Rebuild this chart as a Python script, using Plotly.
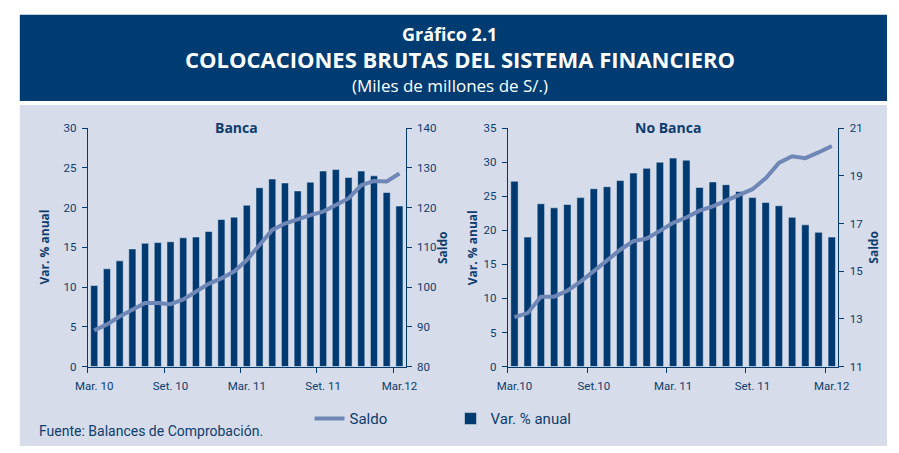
import plotly.graph_objects as go

# ---------------- data ----------------
months = ["Mar10", "Abr10", "May10", "Jun10", "Jul10", "Ago10", "Set10", "Oct10", "Nov10",
          "Dic10", "Ene11", "Feb11", "Mar11", "Abr11", "May11", "Jun11", "Jul11", "Ago11",
          "Set11", "Oct11", "Nov11", "Dic11", "Ene12", "Feb12", "Mar12"]

tick_months = ["Mar10", "Set10", "Mar11", "Set11", "Mar12"]
tick_text_banca = ["Mar. 10", "Set. 10", "Mar. 11", "Set. 11", "Mar.12"]
tick_text_nobanca = ["Mar.10", "Set.10", "Mar. 11", "Set. 11", "Mar.12"]

banca_var = [10.2, 12.3, 13.3, 14.8, 15.5, 15.6, 15.7, 16.2, 16.3, 17.0, 18.5, 18.8, 20.3,
             22.5, 23.6, 23.1, 22.1, 23.2, 24.6, 24.8, 23.8, 24.6, 24.0, 21.9, 20.2]
banca_saldo = [89.1, 90.6, 92.6, 94.3, 96.0, 96.0, 95.7, 96.9, 98.9, 100.8, 102.2, 103.9, 106.8,
               110.8, 114.4, 116.0, 117.1, 118.1, 119.0, 120.6, 122.3, 125.6, 126.7, 126.6, 128.6]

nobanca_var = [27.2, 19.0, 23.9, 23.3, 23.8, 24.8, 26.1, 26.4, 27.3, 28.4, 29.1, 30.0, 30.6,
               30.3, 26.3, 27.1, 26.7, 25.7, 24.8, 24.1, 23.6, 21.9, 20.8, 19.7, 19.0]
nobanca_saldo = [13.07, 13.24, 13.93, 13.93, 14.18, 14.56, 15.0, 15.46, 15.9, 16.26, 16.37, 16.69,
                 17.03, 17.25, 17.54, 17.72, 17.95, 18.18, 18.44, 18.9, 19.54, 19.82, 19.74, 19.98, 20.25]

# ---------------- style ----------------
W, H = 899, 453
NAVY = "#003A70"
HEADER = "#003B71"
PANEL = "#D6DCE9"
LINE = "#6F87B6"
TXT = "#0F3C6E"
NARROW = "Roboto, sans-serif"
TICKFONT = dict(family=NARROW, size=11.5, color=TXT)


def px_x(p):
    return min(max(p / W, 0), 1)


def px_y(p):
    return min(max(1 - p / H, 0), 1)


fig = go.Figure()

fig.add_trace(go.Bar(x=months, y=banca_var, name="Var. % anual", marker_color=NAVY,
                     width=0.56, xaxis="x", yaxis="y", legendrank=2))
fig.add_trace(go.Scatter(x=months, y=banca_saldo, name="Saldo", mode="lines",
                         line=dict(color=LINE, width=4), xaxis="x", yaxis="y2", legendrank=1))
fig.add_trace(go.Bar(x=months, y=nobanca_var, name="Var. % anual", marker_color=NAVY,
                     width=0.56, xaxis="x2", yaxis="y3", showlegend=False))
fig.add_trace(go.Scatter(x=months, y=nobanca_saldo, name="Saldo", mode="lines",
                         line=dict(color=LINE, width=4), xaxis="x2", yaxis="y4", showlegend=False))

yb0, yb1 = px_y(371), px_y(125)

xcommon = dict(type="category", tickson="boundaries", ticks="outside", ticklen=5, tickwidth=1,
               tickcolor=NAVY, showline=True, linecolor=NAVY, linewidth=1, showgrid=False,
               tickfont=TICKFONT, tickangle=0, ticklabelstandoff=9, zeroline=False, fixedrange=True)
ycommon = dict(ticks="outside", ticklen=5, tickwidth=1, tickcolor=NAVY, showline=True,
               linecolor=NAVY, linewidth=1, showgrid=False, zeroline=False,
               tickfont=TICKFONT, ticklabelstandoff=3, fixedrange=True)

fig.update_layout(
    width=W, height=H,
    margin=dict(l=0, r=0, t=0, b=0),
    paper_bgcolor="white",
    plot_bgcolor="rgba(0,0,0,0)",
    barmode="overlay",
    xaxis=dict(domain=[px_x(77), px_x(404)], anchor="y", tickvals=tick_months,
               ticktext=tick_text_banca, **xcommon),
    yaxis=dict(domain=[yb0, yb1], anchor="x", range=[0, 30], dtick=5, **ycommon),
    yaxis2=dict(overlaying="y", anchor="x", side="right", range=[80, 140], dtick=10, **ycommon),
    xaxis2=dict(domain=[px_x(509), px_x(849)], anchor="y3", tickvals=tick_months,
                ticktext=tick_text_nobanca, **xcommon),
    yaxis3=dict(domain=[yb0, yb1], anchor="x2", range=[0, 35], dtick=5, **ycommon),
    yaxis4=dict(overlaying="y3", anchor="x2", side="right", range=[11, 21], tick0=11, dtick=2, **ycommon),
    showlegend=True,
    legend=dict(orientation="h", x=px_x(305), y=px_y(425), xanchor="left", yanchor="middle",
                bgcolor="rgba(0,0,0,0)", entrywidth=96, entrywidthmode="pixels",
                font=dict(family=NARROW, size=15, color=TXT),
                traceorder="normal"),
    shapes=[
        dict(type="rect", xref="paper", yref="paper", x0=px_x(7), x1=1, y0=px_y(97), y1=px_y(8),
             fillcolor=HEADER, line=dict(width=0), layer="below"),
        dict(type="rect", xref="paper", yref="paper", x0=px_x(7), x1=1, y0=0, y1=px_y(101),
             fillcolor=PANEL, line=dict(width=0), layer="below"),
    ],
)

ann = []
hdr_font = "Open Sans, sans-serif"
ann.append(dict(text="<b>Gráfico 2.1</b>", x=px_x(449), y=px_y(28), font=dict(family=hdr_font, size=18, color="white")))
ann.append(dict(text="<b>COLOCACIONES BRUTAS DEL SISTEMA FINANCIERO</b>", x=px_x(460), y=px_y(54),
                font=dict(family=hdr_font, size=22, color="white")))
ann.append(dict(text="(Miles de millones de S/.)", x=px_x(450), y=px_y(81),
                font=dict(family=hdr_font, size=17, color="white")))
ann.append(dict(text="<b>Banca</b>", x=px_x(230), y=px_y(124), font=dict(family=hdr_font, size=14, color=TXT)))
ann.append(dict(text="<b>No Banca</b>", x=px_x(674), y=px_y(124), font=dict(family=hdr_font, size=14, color=TXT)))
for xp, t in [(32, "Var. % anual"), (442, "Saldo"), (472, "Var. % anual"), (885, "Saldo")]:
    ann.append(dict(text="<b>" + t + "</b>", x=px_x(xp), y=px_y(248), textangle=-90,
                    font=dict(family=hdr_font, size=12, color=TXT)))
ann.append(dict(text="Fuente: Balances de Comprobación.", x=px_x(25), y=px_y(438), xanchor="left",
                font=dict(family=NARROW, size=14, color=TXT)))
for a in ann:
    a.setdefault("xref", "paper")
    a.setdefault("yref", "paper")
    a.setdefault("showarrow", False)
    a.setdefault("xanchor", "center")
    a.setdefault("yanchor", "middle")
fig.update_layout(annotations=ann)

fig.write_html("out.html", config={"displayModeBar": False},
               post_script="document.documentElement.style.overflow='hidden';"
                           "document.body.style.margin='0';document.body.style.overflow='hidden';")
